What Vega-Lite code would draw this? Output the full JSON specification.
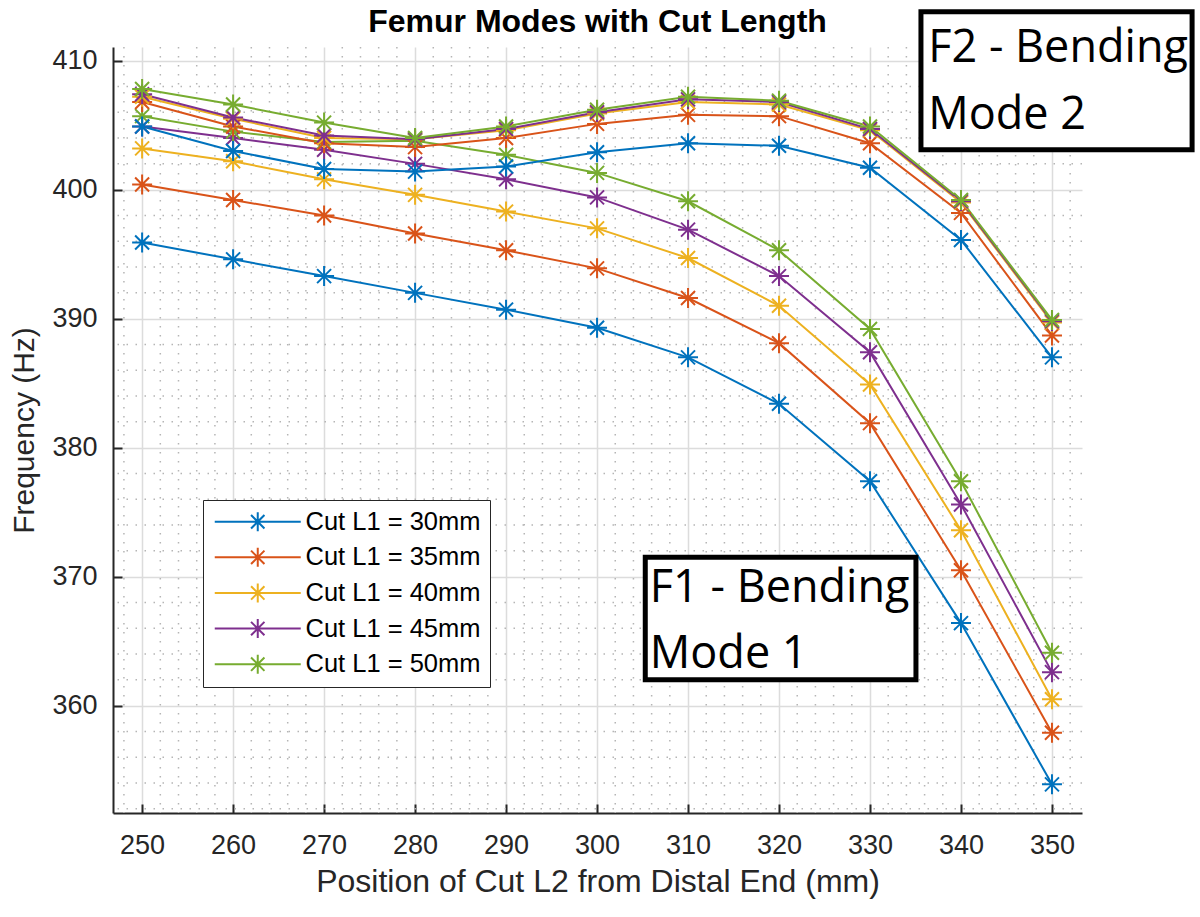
{
  "$schema": "https://vega.github.io/schema/vega-lite/v6.json",
  "autosize": {"type": "none"},
  "padding": {"left": 113, "top": 47, "right": 118, "bottom": 104},
  "width": 969,
  "height": 766,
  "background": "white",
  "title": {
    "text": "Femur Modes with Cut Length",
    "font": "Liberation Sans",
    "fontSize": 32,
    "fontWeight": "bold",
    "color": "#000000",
    "anchor": "middle",
    "offset": 10,
    "dy": 40
  },
  "datasets": {
    "modes": [
      {"pos": 250, "freq": 395.9, "cut": "Cut L1 = 30mm", "mode": "F1"},
      {"pos": 260, "freq": 394.6, "cut": "Cut L1 = 30mm", "mode": "F1"},
      {"pos": 270, "freq": 393.3, "cut": "Cut L1 = 30mm", "mode": "F1"},
      {"pos": 280, "freq": 392.0, "cut": "Cut L1 = 30mm", "mode": "F1"},
      {"pos": 290, "freq": 390.7, "cut": "Cut L1 = 30mm", "mode": "F1"},
      {"pos": 300, "freq": 389.3, "cut": "Cut L1 = 30mm", "mode": "F1"},
      {"pos": 310, "freq": 387.0, "cut": "Cut L1 = 30mm", "mode": "F1"},
      {"pos": 320, "freq": 383.4, "cut": "Cut L1 = 30mm", "mode": "F1"},
      {"pos": 330, "freq": 377.4, "cut": "Cut L1 = 30mm", "mode": "F1"},
      {"pos": 340, "freq": 366.4, "cut": "Cut L1 = 30mm", "mode": "F1"},
      {"pos": 350, "freq": 353.9, "cut": "Cut L1 = 30mm", "mode": "F1"},
      {"pos": 250, "freq": 400.4, "cut": "Cut L1 = 35mm", "mode": "F1"},
      {"pos": 260, "freq": 399.2, "cut": "Cut L1 = 35mm", "mode": "F1"},
      {"pos": 270, "freq": 398.0, "cut": "Cut L1 = 35mm", "mode": "F1"},
      {"pos": 280, "freq": 396.6, "cut": "Cut L1 = 35mm", "mode": "F1"},
      {"pos": 290, "freq": 395.3, "cut": "Cut L1 = 35mm", "mode": "F1"},
      {"pos": 300, "freq": 393.9, "cut": "Cut L1 = 35mm", "mode": "F1"},
      {"pos": 310, "freq": 391.6, "cut": "Cut L1 = 35mm", "mode": "F1"},
      {"pos": 320, "freq": 388.1, "cut": "Cut L1 = 35mm", "mode": "F1"},
      {"pos": 330, "freq": 381.9, "cut": "Cut L1 = 35mm", "mode": "F1"},
      {"pos": 340, "freq": 370.5, "cut": "Cut L1 = 35mm", "mode": "F1"},
      {"pos": 350, "freq": 357.9, "cut": "Cut L1 = 35mm", "mode": "F1"},
      {"pos": 250, "freq": 403.2, "cut": "Cut L1 = 40mm", "mode": "F1"},
      {"pos": 260, "freq": 402.2, "cut": "Cut L1 = 40mm", "mode": "F1"},
      {"pos": 270, "freq": 400.8, "cut": "Cut L1 = 40mm", "mode": "F1"},
      {"pos": 280, "freq": 399.6, "cut": "Cut L1 = 40mm", "mode": "F1"},
      {"pos": 290, "freq": 398.3, "cut": "Cut L1 = 40mm", "mode": "F1"},
      {"pos": 300, "freq": 397.0, "cut": "Cut L1 = 40mm", "mode": "F1"},
      {"pos": 310, "freq": 394.7, "cut": "Cut L1 = 40mm", "mode": "F1"},
      {"pos": 320, "freq": 391.0, "cut": "Cut L1 = 40mm", "mode": "F1"},
      {"pos": 330, "freq": 384.9, "cut": "Cut L1 = 40mm", "mode": "F1"},
      {"pos": 340, "freq": 373.6, "cut": "Cut L1 = 40mm", "mode": "F1"},
      {"pos": 350, "freq": 360.5, "cut": "Cut L1 = 40mm", "mode": "F1"},
      {"pos": 250, "freq": 404.9, "cut": "Cut L1 = 45mm", "mode": "F1"},
      {"pos": 260, "freq": 404.0, "cut": "Cut L1 = 45mm", "mode": "F1"},
      {"pos": 270, "freq": 403.1, "cut": "Cut L1 = 45mm", "mode": "F1"},
      {"pos": 280, "freq": 402.0, "cut": "Cut L1 = 45mm", "mode": "F1"},
      {"pos": 290, "freq": 400.8, "cut": "Cut L1 = 45mm", "mode": "F1"},
      {"pos": 300, "freq": 399.4, "cut": "Cut L1 = 45mm", "mode": "F1"},
      {"pos": 310, "freq": 396.9, "cut": "Cut L1 = 45mm", "mode": "F1"},
      {"pos": 320, "freq": 393.3, "cut": "Cut L1 = 45mm", "mode": "F1"},
      {"pos": 330, "freq": 387.4, "cut": "Cut L1 = 45mm", "mode": "F1"},
      {"pos": 340, "freq": 375.6, "cut": "Cut L1 = 45mm", "mode": "F1"},
      {"pos": 350, "freq": 362.6, "cut": "Cut L1 = 45mm", "mode": "F1"},
      {"pos": 250, "freq": 405.7, "cut": "Cut L1 = 50mm", "mode": "F1"},
      {"pos": 260, "freq": 404.5, "cut": "Cut L1 = 50mm", "mode": "F1"},
      {"pos": 270, "freq": 403.7, "cut": "Cut L1 = 50mm", "mode": "F1"},
      {"pos": 280, "freq": 403.8, "cut": "Cut L1 = 50mm", "mode": "F1"},
      {"pos": 290, "freq": 402.7, "cut": "Cut L1 = 50mm", "mode": "F1"},
      {"pos": 300, "freq": 401.3, "cut": "Cut L1 = 50mm", "mode": "F1"},
      {"pos": 310, "freq": 399.1, "cut": "Cut L1 = 50mm", "mode": "F1"},
      {"pos": 320, "freq": 395.3, "cut": "Cut L1 = 50mm", "mode": "F1"},
      {"pos": 330, "freq": 389.2, "cut": "Cut L1 = 50mm", "mode": "F1"},
      {"pos": 340, "freq": 377.4, "cut": "Cut L1 = 50mm", "mode": "F1"},
      {"pos": 350, "freq": 364.1, "cut": "Cut L1 = 50mm", "mode": "F1"},
      {"pos": 250, "freq": 404.9, "cut": "Cut L1 = 30mm", "mode": "F2"},
      {"pos": 260, "freq": 403.0, "cut": "Cut L1 = 30mm", "mode": "F2"},
      {"pos": 270, "freq": 401.6, "cut": "Cut L1 = 30mm", "mode": "F2"},
      {"pos": 280, "freq": 401.4, "cut": "Cut L1 = 30mm", "mode": "F2"},
      {"pos": 290, "freq": 401.8, "cut": "Cut L1 = 30mm", "mode": "F2"},
      {"pos": 300, "freq": 402.9, "cut": "Cut L1 = 30mm", "mode": "F2"},
      {"pos": 310, "freq": 403.6, "cut": "Cut L1 = 30mm", "mode": "F2"},
      {"pos": 320, "freq": 403.4, "cut": "Cut L1 = 30mm", "mode": "F2"},
      {"pos": 330, "freq": 401.7, "cut": "Cut L1 = 30mm", "mode": "F2"},
      {"pos": 340, "freq": 396.1, "cut": "Cut L1 = 30mm", "mode": "F2"},
      {"pos": 350, "freq": 387.0, "cut": "Cut L1 = 30mm", "mode": "F2"},
      {"pos": 250, "freq": 406.8, "cut": "Cut L1 = 35mm", "mode": "F2"},
      {"pos": 260, "freq": 404.9, "cut": "Cut L1 = 35mm", "mode": "F2"},
      {"pos": 270, "freq": 403.6, "cut": "Cut L1 = 35mm", "mode": "F2"},
      {"pos": 280, "freq": 403.3, "cut": "Cut L1 = 35mm", "mode": "F2"},
      {"pos": 290, "freq": 404.0, "cut": "Cut L1 = 35mm", "mode": "F2"},
      {"pos": 300, "freq": 405.1, "cut": "Cut L1 = 35mm", "mode": "F2"},
      {"pos": 310, "freq": 405.8, "cut": "Cut L1 = 35mm", "mode": "F2"},
      {"pos": 320, "freq": 405.7, "cut": "Cut L1 = 35mm", "mode": "F2"},
      {"pos": 330, "freq": 403.6, "cut": "Cut L1 = 35mm", "mode": "F2"},
      {"pos": 340, "freq": 398.2, "cut": "Cut L1 = 35mm", "mode": "F2"},
      {"pos": 350, "freq": 388.7, "cut": "Cut L1 = 35mm", "mode": "F2"},
      {"pos": 250, "freq": 407.2, "cut": "Cut L1 = 40mm", "mode": "F2"},
      {"pos": 260, "freq": 405.5, "cut": "Cut L1 = 40mm", "mode": "F2"},
      {"pos": 270, "freq": 404.0, "cut": "Cut L1 = 40mm", "mode": "F2"},
      {"pos": 280, "freq": 403.9, "cut": "Cut L1 = 40mm", "mode": "F2"},
      {"pos": 290, "freq": 404.6, "cut": "Cut L1 = 40mm", "mode": "F2"},
      {"pos": 300, "freq": 405.9, "cut": "Cut L1 = 40mm", "mode": "F2"},
      {"pos": 310, "freq": 406.8, "cut": "Cut L1 = 40mm", "mode": "F2"},
      {"pos": 320, "freq": 406.6, "cut": "Cut L1 = 40mm", "mode": "F2"},
      {"pos": 330, "freq": 404.6, "cut": "Cut L1 = 40mm", "mode": "F2"},
      {"pos": 340, "freq": 399.0, "cut": "Cut L1 = 40mm", "mode": "F2"},
      {"pos": 350, "freq": 389.7, "cut": "Cut L1 = 40mm", "mode": "F2"},
      {"pos": 250, "freq": 407.4, "cut": "Cut L1 = 45mm", "mode": "F2"},
      {"pos": 260, "freq": 405.6, "cut": "Cut L1 = 45mm", "mode": "F2"},
      {"pos": 270, "freq": 404.2, "cut": "Cut L1 = 45mm", "mode": "F2"},
      {"pos": 280, "freq": 403.9, "cut": "Cut L1 = 45mm", "mode": "F2"},
      {"pos": 290, "freq": 404.7, "cut": "Cut L1 = 45mm", "mode": "F2"},
      {"pos": 300, "freq": 406.0, "cut": "Cut L1 = 45mm", "mode": "F2"},
      {"pos": 310, "freq": 407.0, "cut": "Cut L1 = 45mm", "mode": "F2"},
      {"pos": 320, "freq": 406.8, "cut": "Cut L1 = 45mm", "mode": "F2"},
      {"pos": 330, "freq": 404.7, "cut": "Cut L1 = 45mm", "mode": "F2"},
      {"pos": 340, "freq": 399.1, "cut": "Cut L1 = 45mm", "mode": "F2"},
      {"pos": 350, "freq": 389.8, "cut": "Cut L1 = 45mm", "mode": "F2"},
      {"pos": 250, "freq": 407.8, "cut": "Cut L1 = 50mm", "mode": "F2"},
      {"pos": 260, "freq": 406.6, "cut": "Cut L1 = 50mm", "mode": "F2"},
      {"pos": 270, "freq": 405.2, "cut": "Cut L1 = 50mm", "mode": "F2"},
      {"pos": 280, "freq": 404.0, "cut": "Cut L1 = 50mm", "mode": "F2"},
      {"pos": 290, "freq": 404.9, "cut": "Cut L1 = 50mm", "mode": "F2"},
      {"pos": 300, "freq": 406.2, "cut": "Cut L1 = 50mm", "mode": "F2"},
      {"pos": 310, "freq": 407.2, "cut": "Cut L1 = 50mm", "mode": "F2"},
      {"pos": 320, "freq": 406.9, "cut": "Cut L1 = 50mm", "mode": "F2"},
      {"pos": 330, "freq": 404.9, "cut": "Cut L1 = 50mm", "mode": "F2"},
      {"pos": 340, "freq": 399.2, "cut": "Cut L1 = 50mm", "mode": "F2"},
      {"pos": 350, "freq": 389.9, "cut": "Cut L1 = 50mm", "mode": "F2"}
    ],
    "minorX": [
      {"v": 248}, {"v": 252}, {"v": 254}, {"v": 256}, {"v": 258},
      {"v": 262}, {"v": 264}, {"v": 266}, {"v": 268},
      {"v": 272}, {"v": 274}, {"v": 276}, {"v": 278},
      {"v": 282}, {"v": 284}, {"v": 286}, {"v": 288},
      {"v": 292}, {"v": 294}, {"v": 296}, {"v": 298},
      {"v": 302}, {"v": 304}, {"v": 306}, {"v": 308},
      {"v": 312}, {"v": 314}, {"v": 316}, {"v": 318},
      {"v": 322}, {"v": 324}, {"v": 326}, {"v": 328},
      {"v": 332}, {"v": 334}, {"v": 336}, {"v": 338},
      {"v": 342}, {"v": 344}, {"v": 346}, {"v": 348},
      {"v": 352}
    ],
    "minorY": [
      {"v": 352}, {"v": 354}, {"v": 356}, {"v": 358},
      {"v": 362}, {"v": 364}, {"v": 366}, {"v": 368},
      {"v": 372}, {"v": 374}, {"v": 376}, {"v": 378},
      {"v": 382}, {"v": 384}, {"v": 386}, {"v": 388},
      {"v": 392}, {"v": 394}, {"v": 396}, {"v": 398},
      {"v": 402}, {"v": 404}, {"v": 406}, {"v": 408}
    ],
    "boxes": [
      {"x1": 305.3, "x2": 335.05, "y1": 371.5, "y2": 362.0},
      {"x1": 335.6, "x2": 365.4, "y1": 413.8, "y2": 403.1}
    ],
    "notes": [
      {"x": 305.8, "y": 368.0, "text": "F1 - Bending"},
      {"x": 305.8, "y": 362.9, "text": "Mode 1"},
      {"x": 336.4, "y": 409.9, "text": "F2 - Bending"},
      {"x": 336.4, "y": 404.7, "text": "Mode 2"}
    ]
  },
  "layer": [
    {
      "data": {"name": "minorX"},
      "mark": {"type": "rule", "color": "#b5b5b5", "strokeWidth": 1.5, "strokeDash": [1.5, 7.5]},
      "encoding": {
        "x": {"field": "v", "type": "quantitative", "scale": {"domain": [246.8, 353.3], "nice": false, "zero": false}}
      }
    },
    {
      "data": {"name": "minorY"},
      "mark": {"type": "rule", "color": "#b5b5b5", "strokeWidth": 1.5, "strokeDash": [1.5, 7.5]},
      "encoding": {
        "y": {"field": "v", "type": "quantitative", "scale": {"domain": [351.68, 411.06], "nice": false, "zero": false}}
      }
    },
    {
      "data": {"name": "modes"},
      "mark": {
        "type": "line",
        "strokeWidth": 2,
        "point": {
          "shape": "M-1,0H1M0,-1V1M-0.7,-0.7L0.7,0.7M-0.7,0.7L0.7,-0.7",
          "filled": false,
          "size": 400,
          "strokeWidth": 2
        }
      },
      "encoding": {
        "x": {
          "field": "pos",
          "type": "quantitative",
          "title": "Position of Cut L2 from Distal End (mm)",
          "scale": {"domain": [246.8, 353.3], "nice": false, "zero": false},
          "axis": {
            "values": [250, 260, 270, 280, 290, 300, 310, 320, 330, 340, 350],
            "labelPadding": 28,
            "titlePadding": 8,
            "titleFontSize": 32
          }
        },
        "y": {
          "field": "freq",
          "type": "quantitative",
          "title": "Frequency (Hz)",
          "scale": {"domain": [351.68, 411.06], "nice": false, "zero": false},
          "axis": {
            "values": [360, 370, 380, 390, 400, 410],
            "labelPadding": 25,
            "titlePadding": 12,
            "titleFontSize": 30
          }
        },
        "color": {
          "field": "cut",
          "type": "nominal",
          "scale": {
            "domain": ["Cut L1 = 30mm", "Cut L1 = 35mm", "Cut L1 = 40mm", "Cut L1 = 45mm", "Cut L1 = 50mm"],
            "range": ["#0072BD", "#D95319", "#EDB120", "#7E2F8E", "#77AC30"]
          },
          "legend": {
            "title": null,
            "orient": "none",
            "legendX": 90,
            "legendY": 453,
            "symbolType": "M-1,0H7.6M3.3,-0.95V0.95M2.63,-0.67L3.97,0.67M2.63,0.67L3.97,-0.67",
            "symbolSize": 400,
            "symbolStrokeWidth": 2,
            "symbolFillColor": "transparent",
            "labelOffset": 68,
            "labelLimit": 400,
            "labelFont": "Liberation Sans",
            "labelFontSize": 25.5,
            "labelColor": "#000000",
            "rowPadding": 7.6,
            "padding": 9,
            "strokeColor": "#262626",
            "fillColor": "white",
            "cornerRadius": 0
          }
        },
        "detail": {"field": "mode", "type": "nominal"}
      }
    },
    {
      "data": {"name": "boxes"},
      "mark": {"type": "rect", "fill": "white", "stroke": "#000000", "strokeWidth": 5, "clip": false},
      "encoding": {
        "x": {"field": "x1", "type": "quantitative"},
        "x2": {"field": "x2"},
        "y": {"field": "y1", "type": "quantitative"},
        "y2": {"field": "y2"}
      }
    },
    {
      "data": {"name": "notes"},
      "mark": {"type": "text", "font": "Open Sans", "fontSize": 45, "align": "left", "baseline": "alphabetic", "color": "#000000", "clip": false},
      "encoding": {
        "x": {"field": "x", "type": "quantitative"},
        "y": {"field": "y", "type": "quantitative"},
        "text": {"field": "text"}
      }
    }
  ],
  "config": {
    "view": {"stroke": null},
    "axis": {
      "domainColor": "#262626",
      "domainWidth": 2,
      "tickColor": "#262626",
      "tickWidth": 2,
      "tickSize": -9,
      "grid": true,
      "gridColor": "#dcdcdc",
      "gridWidth": 1.5,
      "labelFont": "Liberation Sans",
      "labelFontSize": 27,
      "labelColor": "#262626",
      "titleFont": "Liberation Sans",
      "titleFontSize": 31,
      "titleFontWeight": "normal",
      "titleColor": "#262626"
    }
  }
}
